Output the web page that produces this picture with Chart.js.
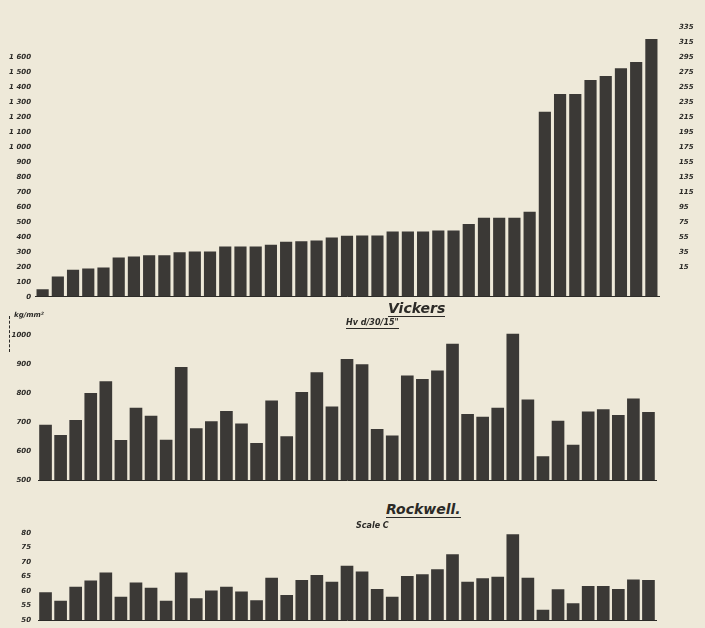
<!DOCTYPE html>
<html><head><meta charset="utf-8">
<script src="https://cdn.jsdelivr.net/npm/chart.js@4.4.0/dist/chart.umd.min.js"></script>
<style>
html,body{margin:0;padding:0;background:#eee9d9;width:705px;height:628px;overflow:hidden;position:relative;font-family:"DejaVu Sans",sans-serif;}
canvas{position:absolute;left:0;}
.t{position:absolute;color:#2b2a27;font-style:italic;font-weight:bold;white-space:nowrap;line-height:1;}
.u{border-bottom:1.5px solid #2b2a27;padding-bottom:1px;}
</style></head><body>
<canvas id="c1" width="705" height="302" style="top:0"></canvas>
<canvas id="c2" width="705" height="170" style="top:318px"></canvas>
<canvas id="c3" width="705" height="106" style="top:522px"></canvas>

<div class="t u" style="left:388px;top:301px;font-size:14px;">Vickers</div>
<div class="t u" style="left:346px;top:319px;font-size:8px;">Hv d/30/15"</div>
<div class="t" style="left:14px;top:312px;font-size:7px;">kg/mm²</div>
<div style="position:absolute;left:9px;top:316px;height:36px;border-left:1.5px dashed #2b2a27;"></div>
<div class="t u" style="left:386px;top:502px;font-size:14px;">Rockwell.</div>
<div class="t" style="left:356px;top:522px;font-size:8px;">Scale C</div>

<script>
const categories = Array.from({length: 41}, (_, i) => String(i + 1));

const topValues = [51, 135, 180, 189, 195, 262, 269, 278, 278, 298, 302, 302, 335, 335, 335, 347,
  367, 371, 375, 395, 407, 409, 409, 435, 435, 435, 442, 442, 485, 527, 527, 527, 567,
  1235, 1353, 1353, 1447, 1473, 1525, 1567, 1720];

const vickersValues = [690, 655, 707, 800, 840, 638, 749, 721, 639, 889, 678, 702, 738, 695, 627,
  774, 651, 803, 871, 753, 917, 899, 676, 653, 860, 848, 877, 969, 727, 718, 749, 1004, 777,
  582, 704, 621, 736, 744, 724, 781, 734];

const rockwellValues = [59.6, 56.6, 61.5, 63.6, 66.4, 58.0, 62.9, 61.1, 56.6, 66.4, 57.5, 60.2,
  61.5, 59.8, 56.8, 64.6, 58.6, 63.8, 65.5, 63.2, 68.7, 66.7, 60.7, 58.0, 65.2, 65.8, 67.5,
  72.7, 63.2, 64.4, 64.9, 79.6, 64.6, 53.5, 60.6, 55.8, 61.7, 61.7, 60.7, 64.0, 63.8];

const topTickLabels = ["0", "100", "200", "300", "400", "500", "600", "700", "800", "900",
  "1 000", "1 100", "1 200", "1 300", "1 400", "1 500", "1 600"];
const topRightTickLabels = ["", "", "15", "35", "55", "75", "95", "115", "135", "155", "175",
  "195", "215", "235", "255", "275", "295", "315", "335"];
const vickersTickLabels = ["500", "600", "700", "800", "900", "1000"];
const rockwellTickLabels = ["50", "55", "60", "65", "70", "75", "80"];

const BAR = '#3b3936';
const INK = '#2b2a27';
const tickFont = {family: 'DejaVu Sans', size: 7, style: 'italic', weight: 'bold'};

function baseOptions(pad) {
  return {
    responsive: false, animation: false, events: [],
    plugins: {legend: {display: false}, tooltip: {enabled: false}},
    layout: {padding: pad},
    scales: {
      x: {grid: {display: false}, ticks: {display: false},
          border: {display: true, color: INK, width: 1},
          afterFit: a => { a.height = 0; }}
    }
  };
}

function hiddenTickGrid(len) {
  return {display: true, drawOnChartArea: false, drawTicks: true, tickLength: len, tickColor: 'rgba(0,0,0,0)'};
}

// Top panel
const o1 = baseOptions({top: 27, bottom: 5, left: 0, right: 0});
o1.scales.y = {min: 0, max: 1800, grid: hiddenTickGrid(3), border: {display: false},
  ticks: {stepSize: 100, includeBounds: false, font: tickFont, color: INK, padding: 1,
    callback: v => topTickLabels[Math.round(v / 100)] ?? ''},
  afterFit: a => { a.width = 35; }};
o1.scales.y2 = {position: 'right', min: 0, max: 1800, grid: hiddenTickGrid(19), border: {display: false},
  ticks: {stepSize: 100, includeBounds: false, font: tickFont, color: INK, padding: 1,
    callback: v => topRightTickLabels[Math.round(v / 100)] ?? ''},
  afterFit: a => { a.width = 46; }};
new Chart(document.getElementById('c1'), {
  type: 'bar',
  data: {labels: categories, datasets: [{data: topValues, backgroundColor: BAR, borderWidth: 0,
    barPercentage: 0.8, categoryPercentage: 1, yAxisID: 'y'}]},
  options: o1
});

// Vickers panel
const o2 = baseOptions({top: 3, bottom: 8, left: 0, right: 49});
o2.scales.y = {min: 500, max: 1040, grid: hiddenTickGrid(6), border: {display: false},
  ticks: {stepSize: 100, includeBounds: false, font: tickFont, color: INK, padding: 1,
    callback: v => vickersTickLabels[Math.round((v - 500) / 100)] ?? ''},
  afterFit: a => { a.width = 38; }};
new Chart(document.getElementById('c2'), {
  type: 'bar',
  data: {labels: categories, datasets: [{data: vickersValues, backgroundColor: BAR, borderWidth: 0,
    barPercentage: 0.84, categoryPercentage: 1}]},
  options: o2
});

// Rockwell panel
const o3 = baseOptions({top: 5, bottom: 8, left: 0, right: 49});
o3.scales.y = {min: 50, max: 82, grid: hiddenTickGrid(6), border: {display: false},
  ticks: {stepSize: 5, includeBounds: false, font: tickFont, color: INK, padding: 1,
    callback: v => rockwellTickLabels[Math.round((v - 50) / 5)] ?? ''},
  afterFit: a => { a.width = 38; }};
new Chart(document.getElementById('c3'), {
  type: 'bar',
  data: {labels: categories, datasets: [{data: rockwellValues, backgroundColor: BAR, borderWidth: 0,
    barPercentage: 0.84, categoryPercentage: 1}]},
  options: o3
});
</script>
</body></html>
